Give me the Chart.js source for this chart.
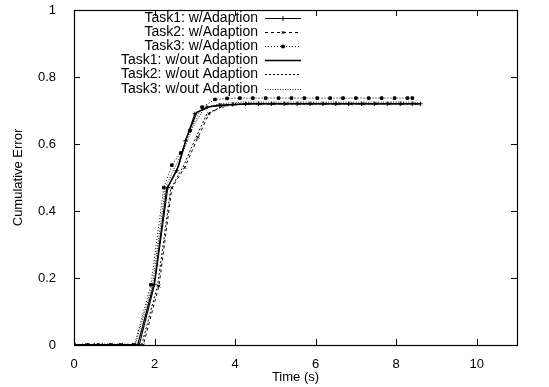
<!DOCTYPE html>
<html>
<head>
<meta charset="utf-8">
<script src="https://cdn.jsdelivr.net/npm/chart.js@4.4.1/dist/chart.umd.min.js"></script>
<style>
  html, body { margin: 0; padding: 0; background: #fff; }
  #wrap { width: 549px; height: 387px; }
</style>
</head>
<body>
<div id="wrap"><canvas id="chart" width="549" height="387"></canvas></div>
<script>
// series names, as in the legend
var seriesNames = [
    'Task1: w/Adaption',
    'Task2: w/Adaption',
    'Task3: w/Adaption',
    'Task1: w/out Adaption',
    'Task2: w/out Adaption',
    'Task3: w/out Adaption'
];

// time (s) and cumulative error
var task1WithTime = [0, 0.3, 0.5, 0.7, 0.95, 1.2, 1.45, 1.62, 2.0, 2.33, 2.55, 2.77, 3.0, 3.3, 3.62, 3.94, 4.26, 4.58, 4.9, 5.22, 5.54, 5.86, 6.18, 6.5, 6.82, 7.14, 7.46, 7.78, 8.1, 8.4, 8.6];
var task1WithErr  = [0, 0, 0, 0, 0, 0, 0, 0, 0.18, 0.47, 0.52, 0.61, 0.69, 0.71, 0.716, 0.718, 0.72, 0.72, 0.72, 0.72, 0.72, 0.72, 0.72, 0.72, 0.72, 0.72, 0.72, 0.72, 0.72, 0.72, 0.72];

var task2WithTime = [0, 0.25, 0.55, 0.8, 1.05, 1.3, 1.72, 2.11, 2.43, 2.75, 3.08, 3.35, 3.67, 3.99, 4.31, 4.63, 4.95, 5.27, 5.59, 5.91, 6.23, 6.55, 6.87, 7.19, 7.51, 7.83, 8.15, 8.5];
var task2WithErr  = [0, 0, 0, 0, 0, 0, 0, 0.176, 0.469, 0.53, 0.62, 0.69, 0.712, 0.718, 0.72, 0.72, 0.72, 0.72, 0.72, 0.72, 0.72, 0.72, 0.72, 0.72, 0.72, 0.72, 0.72, 0.72];

var task3WithTime = [0, 0.35, 0.6, 0.9, 1.15, 1.5, 1.91, 2.23, 2.43, 2.65, 2.88, 3.18, 3.5, 3.8, 4.12, 4.44, 4.76, 5.08, 5.4, 5.72, 6.04, 6.36, 6.68, 7.0, 7.32, 7.64, 7.96, 8.28, 8.4];
var task3WithErr  = [0, 0, 0, 0, 0, 0, 0.18, 0.47, 0.537, 0.573, 0.64, 0.71, 0.733, 0.736, 0.737, 0.737, 0.737, 0.737, 0.737, 0.737, 0.737, 0.737, 0.737, 0.737, 0.737, 0.737, 0.737, 0.737, 0.737];

var task1WithoutTime = [0, 1.58, 2.0, 2.3, 2.6, 2.8, 3.05, 3.4, 3.8, 4.5, 6.0, 8.6];
var task1WithoutErr  = [0, 0, 0.19, 0.465, 0.535, 0.62, 0.695, 0.712, 0.717, 0.72, 0.72, 0.72];

var task2WithoutTime = [0, 1.68, 2.08, 2.4, 2.72, 3.05, 3.3, 3.7, 4.2, 6.0, 8.5];
var task2WithoutErr  = [0, 0, 0.18, 0.465, 0.535, 0.625, 0.69, 0.713, 0.72, 0.72, 0.72];

var task3WithoutTime = [0, 1.52, 1.95, 2.27, 2.5, 2.72, 2.95, 3.22, 3.6, 4.2, 6.0, 8.5];
var task3WithoutErr  = [0, 0, 0.18, 0.47, 0.53, 0.58, 0.65, 0.705, 0.72, 0.725, 0.725, 0.725];

var xTicks = [0, 2, 4, 6, 8, 10];
var yTicks = [0, 0.2, 0.4, 0.6, 0.8, 1];

var FONT = '"Liberation Sans", Arial, Helvetica, sans-serif';

function points(times, errs) {
    var out = [], i;
    for (i = 0; i < times.length; i++) {
        out.push({ x: times[i], y: errs[i] });
    }
    return out;
}

var datasets = [
    { data: points(task1WithTime, task1WithErr), borderDash: [], pointStyle: 'cross', pointRadius: 2.2, borderWidth: 1.1 },
    { data: points(task2WithTime, task2WithErr), borderDash: [3, 3], pointStyle: 'crossRot', pointRadius: 2, borderWidth: 1 },
    { data: points(task3WithTime, task3WithErr), borderDash: [1, 2], pointStyle: 'rect', pointRadius: 1.8, borderWidth: 1 },
    { data: points(task1WithoutTime, task1WithoutErr), borderDash: [], pointStyle: false, pointRadius: 0, borderWidth: 1.3 },
    { data: points(task2WithoutTime, task2WithoutErr), borderDash: [2, 2], pointStyle: false, pointRadius: 0, borderWidth: 1 },
    { data: points(task3WithoutTime, task3WithoutErr), borderDash: [1, 1.5], pointStyle: false, pointRadius: 0, borderWidth: 0.9 }
];

datasets.forEach(function (ds, i) {
    ds.label = seriesNames[i];
    ds.borderColor = '#000';
    ds.backgroundColor = '#000';
    ds.pointBorderColor = '#000';
    ds.pointBackgroundColor = '#000';
    ds.pointBorderWidth = 1;
    ds.tension = 0;
    ds.fill = false;
});

//gnuplot style frame with inward ticks on all four sides
var framePlugin = {
    id: 'frame',
    afterDraw: function (chart) {
        var ctx = chart.ctx, a = chart.chartArea,
            xs = chart.scales.x, ys = chart.scales.y, len = 6;

        ctx.save();
        ctx.strokeStyle = '#000';
        ctx.lineWidth = 1;
        ctx.beginPath();
        xTicks.forEach(function (v) {
            var px = Math.round(xs.getPixelForValue(v)) + 0.5;
            ctx.moveTo(px, a.bottom);
            ctx.lineTo(px, a.bottom - len);
            ctx.moveTo(px, a.top);
            ctx.lineTo(px, a.top + len);
        });
        yTicks.forEach(function (v) {
            var py = Math.round(ys.getPixelForValue(v)) + 0.5;
            ctx.moveTo(a.left, py);
            ctx.lineTo(a.left + len, py);
            ctx.moveTo(a.right, py);
            ctx.lineTo(a.right - len, py);
        });
        ctx.stroke();

        ctx.lineWidth = 1.2;
        ctx.strokeRect(Math.round(a.left) + 0.5, Math.round(a.top) + 0.5,
            Math.round(a.right - a.left), Math.round(a.bottom - a.top));
        ctx.restore();
    }
};

//legend: right aligned text followed by a line sample
var keyPlugin = {
    id: 'key',
    afterDraw: function (chart) {
        var ctx = chart.ctx, textRight = 258, lineLeft = 265, lineRight = 301,
            top = 18, step = 14.1;

        ctx.save();
        ctx.font = '14px ' + FONT;
        ctx.fillStyle = '#000';
        ctx.textAlign = 'right';
        ctx.textBaseline = 'middle';

        chart.data.datasets.forEach(function (ds, i) {
            var y = Math.round(top + i * step) + 0.5;
            ctx.fillText(ds.label, textRight, y);

            ctx.strokeStyle = '#000';
            ctx.lineWidth = ds.borderWidth;
            ctx.setLineDash(ds.borderDash);
            ctx.beginPath();
            ctx.moveTo(lineLeft, y);
            ctx.lineTo(lineRight, y);
            ctx.stroke();
            ctx.setLineDash([]);

            if (ds.pointStyle) {
                Chart.helpers.drawPoint(ctx, {
                    pointStyle: ds.pointStyle,
                    radius: ds.pointRadius,
                    borderWidth: 1,
                    rotation: 0
                }, (lineLeft + lineRight) / 2, y);
            }
        });
        ctx.restore();
    }
};

new Chart(document.getElementById('chart'), {
    type: 'line',
    data: { datasets: datasets },
    options: {
        responsive: false,
        animation: false,
        parsing: true,
        layout: { padding: { top: 10, right: 32, left: 0, bottom: 0 } },
        plugins: {
            legend: { display: false },
            tooltip: { enabled: false }
        },
        elements: { line: { borderCapStyle: 'butt' } },
        scales: {
            x: {
                type: 'linear',
                min: 0,
                max: 11,
                afterBuildTicks: function (scale) {
                    scale.ticks = xTicks.map(function (v) { return { value: v }; });
                },
                afterFit: function (scale) {
                    scale.height = 42;
                    scale.paddingLeft = 0;
                    scale.paddingRight = 0;
                },
                grid: { display: false, drawTicks: false },
                border: { display: false },
                ticks: {
                    color: '#000',
                    padding: 12,
                    maxRotation: 0,
                    font: { family: FONT, size: 13 }
                },
                title: {
                    display: true,
                    text: 'Time (s)',
                    color: '#000',
                    padding: { top: 0, bottom: 2 },
                    font: { family: FONT, size: 13 }
                }
            },
            y: {
                type: 'linear',
                min: 0,
                max: 1,
                afterBuildTicks: function (scale) {
                    scale.ticks = yTicks.map(function (v) { return { value: v }; });
                },
                afterFit: function (scale) {
                    scale.width = 74;
                    scale.paddingTop = 0;
                    scale.paddingBottom = 0;
                },
                grid: { display: false },
                border: { display: false },
                ticks: {
                    color: '#000',
                    padding: 10,
                    font: { family: FONT, size: 13 },
                    callback: function (v) { return String(Math.round(v * 10) / 10); }
                },
                title: {
                    display: true,
                    text: 'Cumulative Error',
                    color: '#000',
                    padding: { top: 11, bottom: 0 },
                    font: { family: FONT, size: 13 }
                }
            }
        }
    },
    plugins: [framePlugin, keyPlugin]
});
</script>
</body>
</html>
